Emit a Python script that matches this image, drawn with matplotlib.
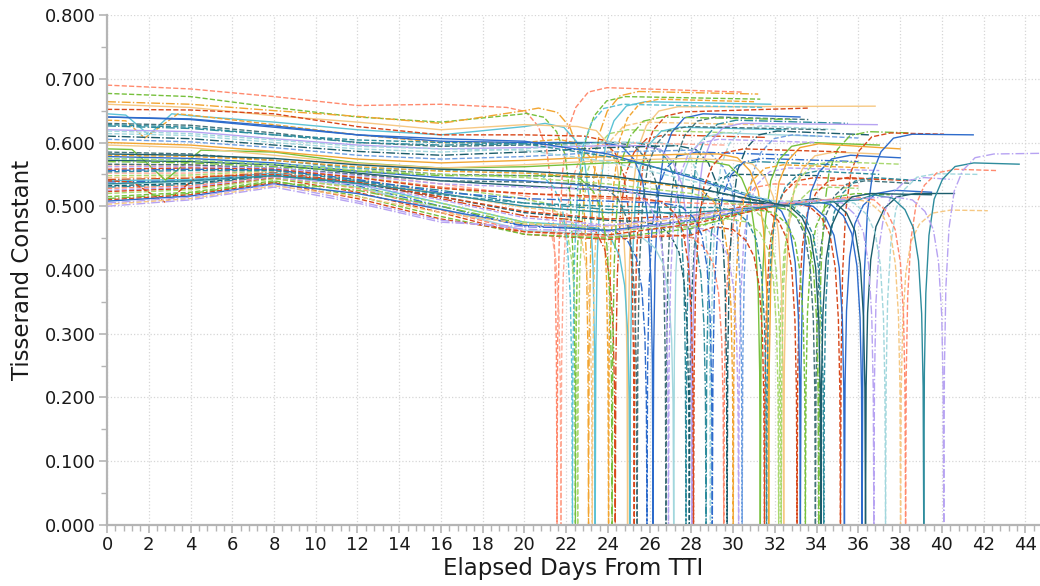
"""Tisserand constant vs elapsed days from TTI, one line per trajectory."""

import matplotlib

matplotlib.use("Agg")
import matplotlib.pyplot as plt
from matplotlib.ticker import FormatStrFormatter, MultipleLocator

# cruise values read at these days (used only up to the start of each flyby dip)
CRUISE_DAYS = [0, 4, 8, 12, 16, 20, 24, 28, 32, 36]

CRUISE = [
    [0.690, 0.684, 0.672, 0.658, 0.660],
    [0.552, 0.552, 0.558, 0.550, 0.535],
    [0.677, 0.672, 0.655, 0.640, 0.632, 0.645],
    [0.548, 0.549, 0.556, 0.546, 0.530, 0.512],
    [0.664, 0.660, 0.650, 0.641, 0.630, 0.650],
    [0.645, 0.642, 0.632, 0.620, 0.612, 0.625],
    [0.545, 0.546, 0.555, 0.542, 0.520, 0.498],
    [0.635, 0.643, 0.628, 0.612, 0.600, 0.600],
    [0.542, 0.544, 0.553, 0.538, 0.512, 0.485],
    [0.660, 0.655, 0.642, 0.632, 0.620, 0.628],
    [0.540, 0.542, 0.552, 0.535, 0.505, 0.475],
    [0.652, 0.651, 0.645, 0.625, 0.612, 0.612],
    [0.538, 0.540, 0.550, 0.532, 0.500, 0.468],
    [0.640, 0.637, 0.626, 0.612, 0.602, 0.600],
    [0.630, 0.627, 0.615, 0.600, 0.594, 0.596, 0.600],
    [0.535, 0.538, 0.549, 0.530, 0.496, 0.462, 0.455],
    [0.626, 0.622, 0.612, 0.600, 0.596, 0.598, 0.600],
    [0.532, 0.536, 0.548, 0.536, 0.515, 0.490, 0.478],
    [0.620, 0.617, 0.606, 0.596, 0.590, 0.592, 0.595],
    [0.530, 0.534, 0.547, 0.540, 0.525, 0.505, 0.495],
    [0.614, 0.611, 0.600, 0.590, 0.585, 0.590, 0.600],
    [0.528, 0.532, 0.546, 0.528, 0.494, 0.460, 0.452],
    [0.610, 0.606, 0.596, 0.586, 0.580, 0.585, 0.592],
    [0.525, 0.530, 0.545, 0.534, 0.510, 0.482, 0.470],
    [0.605, 0.601, 0.592, 0.580, 0.574, 0.578, 0.585],
    [0.590, 0.588, 0.585, 0.568, 0.560, 0.562, 0.568, 0.570],
    [0.523, 0.528, 0.544, 0.522, 0.490, 0.456, 0.448, 0.455],
    [0.600, 0.596, 0.586, 0.574, 0.568, 0.572, 0.578, 0.582],
    [0.520, 0.526, 0.543, 0.530, 0.505, 0.475, 0.462, 0.468],
    [0.596, 0.592, 0.580, 0.567, 0.560, 0.565, 0.572, 0.575],
    [0.540, 0.546, 0.550, 0.538, 0.515, 0.492, 0.480, 0.485],
    [0.640, 0.636, 0.624, 0.612, 0.606, 0.602, 0.582, 0.545],
    [0.515, 0.522, 0.540, 0.516, 0.484, 0.456, 0.450, 0.465],
    [0.585, 0.582, 0.572, 0.560, 0.550, 0.548, 0.545, 0.530],
    [0.512, 0.520, 0.538, 0.525, 0.500, 0.472, 0.462, 0.475],
    [0.628, 0.624, 0.612, 0.604, 0.600, 0.598, 0.578, 0.548],
    [0.510, 0.518, 0.537, 0.512, 0.480, 0.460, 0.455, 0.472, 0.500],
    [0.578, 0.575, 0.568, 0.555, 0.545, 0.540, 0.530, 0.515, 0.502],
    [0.508, 0.516, 0.535, 0.520, 0.495, 0.470, 0.462, 0.478, 0.502],
    [0.572, 0.570, 0.565, 0.552, 0.540, 0.532, 0.525, 0.512, 0.503],
    [0.505, 0.514, 0.534, 0.508, 0.478, 0.464, 0.460, 0.478, 0.503],
    [0.618, 0.614, 0.604, 0.594, 0.590, 0.588, 0.570, 0.540, 0.508],
    [0.503, 0.512, 0.532, 0.515, 0.490, 0.472, 0.468, 0.482, 0.505, 0.510],
    [0.565, 0.565, 0.558, 0.545, 0.530, 0.520, 0.512, 0.505, 0.502, 0.510],
    [0.535, 0.540, 0.548, 0.536, 0.520, 0.500, 0.490, 0.490, 0.500, 0.510],
    [0.500, 0.510, 0.530, 0.505, 0.475, 0.468, 0.470, 0.485, 0.505, 0.512],
    [0.575, 0.572, 0.566, 0.560, 0.556, 0.556],
    [0.570, 0.568, 0.562, 0.555, 0.548, 0.548],
    [0.566, 0.565, 0.560, 0.550, 0.540, 0.538],
    [0.562, 0.562, 0.560, 0.548, 0.535, 0.530, 0.526],
    [0.558, 0.560, 0.558, 0.545, 0.528, 0.520, 0.515],
    [0.556, 0.558, 0.557, 0.542, 0.522, 0.512, 0.508],
    [0.580, 0.578, 0.572, 0.562, 0.555, 0.552, 0.545, 0.535],
    [0.554, 0.556, 0.556, 0.540, 0.518, 0.505, 0.500, 0.498],
    [0.582, 0.580, 0.575, 0.565, 0.558, 0.555, 0.548, 0.530],
    [0.575, 0.572, 0.566, 0.557, 0.550, 0.545, 0.535, 0.520],
]

FLYBY_DAY = [
    21.56, 21.75, 22.44, 22.55, 23.07, 23.39, 23.25, 24.03, 24.35, 24.94,
    25.05, 25.26, 25.87, 26.16, 26.78, 27.15, 27.74, 27.90, 28.03, 28.70,
    28.91, 29.55, 29.71, 30.26, 30.43, 31.30, 31.50, 31.70, 32.18, 32.42,
    33.06, 33.22, 33.46, 33.94, 34.10, 34.34, 35.14, 35.33, 36.18, 36.34,
    36.74, 37.30, 38.02, 38.26, 39.13, 40.09, 22.30, 24.20, 25.40, 26.90,
    28.10, 29.00, 30.00, 31.60, 34.20, 32.30,
]
PRE_VALUE = [
    0.655, 0.520, 0.646, 0.510, 0.654, 0.630, 0.495, 0.605, 0.480, 0.625,
    0.470, 0.610, 0.465, 0.600, 0.600, 0.455, 0.600, 0.476, 0.595, 0.492,
    0.600, 0.455, 0.595, 0.468, 0.588, 0.570, 0.468, 0.582, 0.480, 0.572,
    0.500, 0.515, 0.495, 0.505, 0.500, 0.505, 0.505, 0.505, 0.508, 0.512,
    0.510, 0.510, 0.512, 0.515, 0.518, 0.515, 0.555, 0.548, 0.535, 0.525,
    0.512, 0.505, 0.530, 0.498, 0.505, 0.505,
]
POST_VALUE = [
    0.686, 0.600, 0.672, 0.620, 0.680, 0.664, 0.632, 0.668, 0.612, 0.656,
    0.624, 0.648, 0.585, 0.645, 0.640, 0.615, 0.635, 0.550, 0.630, 0.570,
    0.626, 0.535, 0.618, 0.560, 0.612, 0.600, 0.545, 0.598, 0.530, 0.585,
    0.545, 0.580, 0.520, 0.540, 0.617, 0.545, 0.615, 0.525, 0.613, 0.520,
    0.545, 0.551, 0.494, 0.558, 0.568, 0.582, 0.660, 0.640, 0.625, 0.605,
    0.590, 0.575, 0.565, 0.555, 0.520, 0.570,
]
END_DAY = [
    30.5, 29.6, 31.3, 30.2, 31.2, 31.8, 31.0, 31.0, 31.6, 36.8,
    32.5, 33.6, 33.0, 33.2, 33.6, 34.0, 35.5, 34.2, 36.9, 35.0,
    35.0, 36.0, 36.5, 37.0, 36.0, 37.0, 37.0, 38.0, 36.0, 37.0,
    38.5, 38.0, 37.5, 38.5, 38.5, 39.0, 40.1, 39.5, 41.5, 40.6,
    40.5, 41.7, 42.2, 42.6, 43.7, 44.7, 31.5, 32.8, 34.5, 34.0,
    35.5, 36.0, 36.5, 37.0, 39.5, 38.0,
]
END_VALUE = [
    0.679, 0.596, 0.668, 0.615, 0.676, 0.660, 0.628, 0.664, 0.608, 0.657,
    0.620, 0.654, 0.580, 0.640, 0.636, 0.610, 0.630, 0.548, 0.628, 0.565,
    0.620, 0.532, 0.612, 0.556, 0.607, 0.596, 0.542, 0.590, 0.528, 0.582,
    0.540, 0.576, 0.518, 0.536, 0.615, 0.540, 0.613, 0.522, 0.612, 0.520,
    0.542, 0.550, 0.493, 0.556, 0.566, 0.583, 0.655, 0.636, 0.620, 0.600,
    0.585, 0.570, 0.560, 0.550, 0.518, 0.566,
]

# small early dips seen on four trajectories: (day, value) knots
VDIP_LINE = [5, 7, 25, 30]
VDIP_KNOTS = [
    [(0.9, 0.643), (2.0, 0.612), (3.1, 0.645)],
    [(0.9, 0.634), (1.8, 0.607), (3.4, 0.645)],
    [(1.2, 0.589), (2.8, 0.541), (4.5, 0.588)],
    [(1.2, 0.538), (2.8, 0.506), (4.3, 0.546)],
]

# shape of the close-approach plunge: days from flyby -> fraction of level
DIP_OFFSET = [0.0, 0.03, 0.1, 0.25, 0.5, 0.9, 1.5, 2.4]
DIP_SHAPE = [0.0, 0.42, 0.64, 0.80, 0.90, 0.955, 0.99, 1.0]

PALETTE = {
    "salmon": "#ff8a6e", "lsalmon": "#ffaa95", "green": "#76c03c", "lgreen": "#a9d870",
    "orange": "#f2a531", "lorange": "#f6c883", "cyan": "#5cc2d6", "lteal": "#a2d7dd",
    "teal": "#2e8c9d", "dteal": "#1c5d6c", "slate": "#43737b", "red": "#d8481b",
    "blue": "#2d6bcb", "lblue": "#6f9fe0", "lavender": "#b7a3f2",
}
LINE_COLOR = [
    "salmon", "lsalmon", "green", "lgreen", "orange", "cyan", "lorange", "orange", "red", "lorange",
    "cyan", "red", "blue", "blue", "slate", "lteal", "teal", "dteal", "lavender", "teal",
    "lteal", "salmon", "dteal", "lavender", "lblue", "green", "red", "orange", "lgreen", "lorange",
    "red", "blue", "green", "slate", "green", "teal", "red", "blue", "blue", "dteal",
    "lavender", "lteal", "lorange", "salmon", "teal", "lavender", "cyan", "green", "slate", "lavender",
    "red", "blue", "orange", "teal", "dteal", "lgreen",
]
LINE_STYLE = [
    "--", "--", "--", "--", "-.", "-", "--", "--", "-.", "-",
    "-", "--", "-.", "-", "--", "-", "-.", "--", "-", "-.",
    "--", "--", "-.", "--", "--", "-", "--", "-", "--", "-",
    "--", "-", "--", "--", "-.", "--", "--", "-", "-", "-",
    "-.", "--", "--", "--", "-", "-.", "--", "-.", "--", "--",
    "--", "-.", "--", "--", "-", "--",
]


def trajectory(i):
    t_c = FLYBY_DAY[i]
    span = DIP_OFFSET[-1]
    knots = list(zip(CRUISE_DAYS, CRUISE[i]))
    if i in VDIP_LINE:
        extra = VDIP_KNOTS[VDIP_LINE.index(i)]
        lo, hi = extra[0][0], extra[-1][0]
        knots = sorted([k for k in knots if k[0] < lo or k[0] > hi] + extra)
    knots = [k for k in knots if k[0] < t_c - span]
    xs = [k[0] for k in knots]
    ys = [k[1] for k in knots]
    for off, frac in zip(reversed(DIP_OFFSET), reversed(DIP_SHAPE)):
        xs.append(t_c - off)
        ys.append(PRE_VALUE[i] * frac)
    for off, frac in zip(DIP_OFFSET[1:], DIP_SHAPE[1:]):
        xs.append(t_c + off)
        ys.append(POST_VALUE[i] * frac)
    xs.append(END_DAY[i])
    ys.append(END_VALUE[i])
    return xs, ys


fig = plt.figure(figsize=(10.4, 5.86), dpi=100)
ax = fig.add_axes([0.1029, 0.1041, 0.8971, 0.8703])

for i in range(len(FLYBY_DAY)):
    xs, ys = trajectory(i)
    ax.plot(xs, ys, color=PALETTE[LINE_COLOR[i]], linestyle=LINE_STYLE[i], linewidth=1.0)

ax.set_xlim(0, 44.7)
ax.set_ylim(0, 0.8)
ax.xaxis.set_major_locator(MultipleLocator(2))
ax.xaxis.set_minor_locator(MultipleLocator(0.4))
ax.yaxis.set_major_locator(MultipleLocator(0.1))
ax.yaxis.set_minor_locator(MultipleLocator(0.05))
ax.yaxis.set_major_formatter(FormatStrFormatter("%.3f"))

ax.grid(True, which="major", color="#d6d6d6", linestyle=":", linewidth=0.9)
ax.set_axisbelow(True)
for side in ["top", "right"]:
    ax.spines[side].set_visible(False)
for side in ["left", "bottom"]:
    ax.spines[side].set_color("#b5b5b5")
    ax.spines[side].set_linewidth(1.6)
ax.tick_params(which="major", direction="out", length=6, width=1.2, color="#b5b5b5",
               labelsize=13, labelcolor="#1a1a1a", pad=2)
ax.tick_params(which="minor", direction="out", length=4, width=1.0, color="#b5b5b5")

ax.set_xlabel("Elapsed Days From TTI", fontsize=16.5, color="#1a1a1a", labelpad=2)
ax.set_ylabel("Tisserand Constant", fontsize=16.5, color="#1a1a1a", labelpad=8)

fig.savefig("out.png", dpi=100)
